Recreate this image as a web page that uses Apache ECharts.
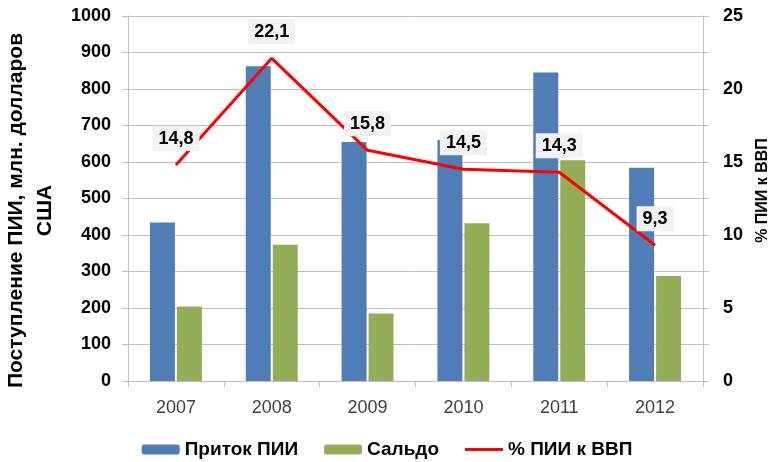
<!DOCTYPE html>
<html>
<head>
<meta charset="utf-8">
<script src="https://cdn.jsdelivr.net/npm/echarts@6/dist/echarts.min.js"></script>
<style>
    html, body { margin: 0; padding: 0; background: #fff; }
    #chart { width: 774px; height: 462px; }
</style>
</head>
<body>
<div id="chart"></div>
<script>
const years = ['2007', '2008', '2009', '2010', '2011', '2012']
const inflow = [434, 862, 655, 660, 845, 584]
const balance = [204, 373, 185, 432, 605, 288]
const fdiToGdp = [14.8, 22.1, 15.8, 14.5, 14.3, 9.3]

const grey = '#bfbfbf'
const font = 'Liberation Sans'

const chart = echarts.init(document.getElementById('chart'))

chart.setOption({
    animation: false,
    textStyle: { fontFamily: font },
    grid: { left: 128, right: 71, top: 16, bottom: 81, outerBoundsMode: 'none' },
    legend: {
        top: 435,
        left: 'center',
        itemWidth: 38,
        itemHeight: 10,
        itemGap: 26,
        textStyle: { fontSize: 19, fontWeight: 'bold', color: '#000', fontFamily: font },
        data: [
            'Приток ПИИ',
            'Сальдо',
            { name: '% ПИИ к ВВП', icon: 'path://M0,0H38V3H0Z', itemStyle: { color: '#ff0000' } },
        ],
    },
    xAxis: {
        type: 'category',
        data: years,
        axisLine: { lineStyle: { color: grey } },
        axisTick: { show: true, length: 6, lineStyle: { color: grey } },
        axisLabel: { color: '#404040', fontSize: 18, margin: 18 },
    },
    yAxis: [
        {
            type: 'value',
            min: 0,
            max: 1000,
            interval: 100,
            name: 'Поступление ПИИ, млн. долларов\nСША',
            nameLocation: 'middle',
            nameGap: 66,
            nameRotate: 90,
            nameTextStyle: {
                fontSize: 21,
                fontWeight: 'bold',
                color: '#000',
                lineHeight: 29,
                padding: [0, 24, 0, 0],
            },
            axisLine: { show: true, lineStyle: { color: grey } },
            axisTick: { show: true, length: 6, lineStyle: { color: grey } },
            axisLabel: {
                color: '#000',
                fontSize: 18,
                fontWeight: 'bold',
                margin: 17,
                formatter: (v) => String(v),
            },
            splitLine: { lineStyle: { color: grey } },
        },
        {
            type: 'value',
            min: 0,
            max: 25,
            interval: 2.5,
            name: '% ПИИ к ВВП',
            nameLocation: 'middle',
            nameGap: 52,
            nameRotate: 90,
            nameTextStyle: { fontSize: 16, fontWeight: 'bold', color: '#000', padding: [0, 0, 0, 16] },
            axisLine: { show: true, lineStyle: { color: grey } },
            axisTick: { show: true, length: 6, lineStyle: { color: grey } },
            axisLabel: {
                color: '#000',
                fontSize: 18,
                fontWeight: 'bold',
                margin: 20,
                formatter: (v) => (v % 5 === 0 ? String(v) : ''),
            },
            splitLine: { show: false },
        },
    ],
    series: [
        {
            name: 'Приток ПИИ',
            type: 'bar',
            data: inflow,
            barWidth: 25,
            barGap: '8%',
            itemStyle: { color: '#4f7db6' },
        },
        {
            name: 'Сальдо',
            type: 'bar',
            data: balance,
            barWidth: 25,
            itemStyle: { color: '#94ad57' },
        },
        {
            name: '% ПИИ к ВВП',
            type: 'line',
            yAxisIndex: 1,
            data: fdiToGdp,
            symbol: 'circle',
            symbolSize: 0,
            lineStyle: { color: '#ff0000', width: 3 },
            itemStyle: { color: '#ff0000' },
            label: {
                show: true,
                position: 'top',
                distance: 14,
                formatter: (p) => String(p.value).replace('.', ','),
                fontSize: 18,
                fontWeight: 'bold',
                color: '#000',
                backgroundColor: '#f2f2f2',
                padding: [4, 6, 3, 6],
            },
        },
    ],
})
</script>
</body>
</html>
